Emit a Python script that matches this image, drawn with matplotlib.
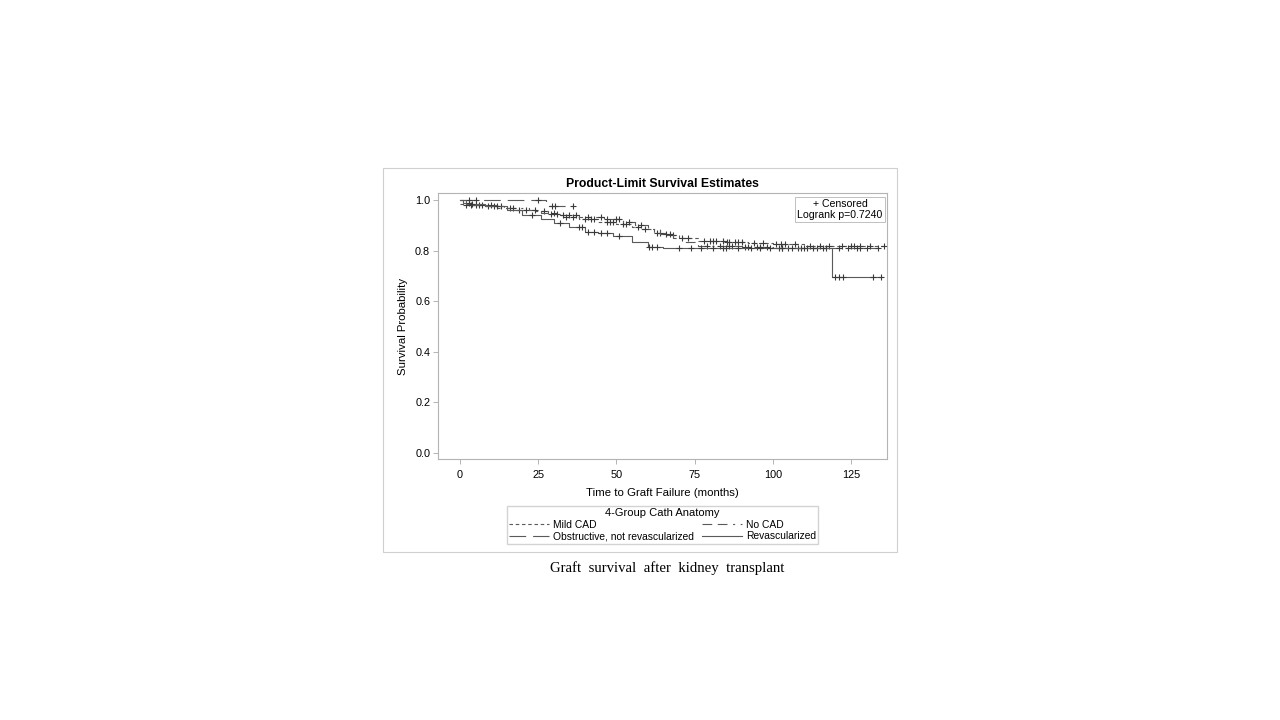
"""
Kaplan-Meier style graft survival by 4-group cath anatomy (slide reproduction).
"""

import numpy as np
import matplotlib
matplotlib.use("Agg")
import matplotlib.pyplot as plt
from matplotlib.patches import Rectangle
from matplotlib.lines import Line2D

plt.rcParams["font.family"] = ["Liberation Sans", "DejaVu Sans"]
plt.rcParams["lines.scale_dashes"] = False

W, H = 1280, 720

# step knots (time in months, survival) and censor times per group
mild_t = [0, 1, 8, 14, 18, 24, 28, 33, 38, 44, 50, 55, 58, 62, 66, 70, 76, 85, 92, 100, 110]
mild_s = [0.985, 0.98, 0.975, 0.97, 0.96, 0.955, 0.945, 0.935, 0.925, 0.915, 0.905,
          0.895, 0.885, 0.87, 0.86, 0.85, 0.84, 0.835, 0.83, 0.825, 0.82]
mild_cens = [2, 3.5, 5, 6, 9, 11, 13, 16, 19, 21, 27, 29, 31, 34, 36, 40, 42, 43, 47, 48,
             49, 52, 53, 57, 59, 63, 64, 68, 73, 78, 80, 81, 82, 84, 85.5, 86, 88, 89,
             90, 94, 97, 101, 102.5, 104, 107, 112, 115, 118, 122, 125, 126, 128, 131,
             135.5]

nocad_t = [0, 1, 4, 12, 22, 26, 32, 38, 46, 52, 56, 60, 64, 68, 72, 76, 90, 100]
nocad_s = [1.0, 0.99, 0.98, 0.97, 0.96, 0.95, 0.94, 0.935, 0.925, 0.915, 0.9, 0.885,
           0.865, 0.85, 0.835, 0.82, 0.815, 0.81]
nocad_cens = [3, 7, 10, 17, 24, 30, 33, 35, 37, 41, 45, 47, 50, 51, 54, 58, 66, 67, 71,
              79, 83, 86, 87, 91, 92, 95, 96, 98, 102, 103, 105, 108, 109, 111, 114, 117,
              121, 124, 127, 128, 130, 133.5]

obst_t = [0, 27.5]
obst_s = [1.0, 0.977]
obst_cens = [3, 5, 25, 29.5, 30.5, 36]

revasc_t = [0, 2, 8, 15, 20, 26, 30, 35, 40, 44, 49, 55, 60, 65, 119]
revasc_s = [1.0, 0.985, 0.975, 0.96, 0.94, 0.925, 0.91, 0.895, 0.875, 0.87, 0.858,
            0.835, 0.815, 0.81, 0.695]
revasc_cens = [4, 12, 23, 32, 38, 39, 41, 43, 45, 47, 51, 60.5, 61.5, 63, 70, 74, 77,
               81, 84, 85, 89, 93, 96, 99, 103, 106, 110, 113, 116, 120, 121, 122.5, 132,
               134.5]

LINE_C = "#5a5a5a"
CENS_C = "#3a3a3a"
GRID_C = "#b4b4b4"

groups = [
    ("Mild CAD", mild_t, mild_s, mild_cens, (0, (2.5, 2.0))),
    ("Obstructive, not revascularized", obst_t, obst_s, obst_cens, (0, (12, 5))),
    ("No CAD", nocad_t, nocad_s, nocad_cens, (0, (7, 4, 7, 4, 1.5, 4))),
    ("Revascularized", revasc_t, revasc_s, revasc_cens, "solid"),
]

fig = plt.figure(figsize=(W / 100, H / 100), dpi=100)

# outer frame of the pasted chart
fig.patches.append(Rectangle((383 / W, 1 - 552 / H), 514 / W, 384 / H,
                             transform=fig.transFigure, fill=False,
                             ec="#cfcfcf", lw=0.8))

ax = fig.add_axes([438 / W, 1 - 459 / H, 449 / W, 266 / H])

handles = []
for name, t, s, cens, ls in groups:
    xs = list(t) + [max(cens)]
    ys = list(s) + [s[-1]]
    ax.step(xs, ys, where="post", color=LINE_C, lw=0.8, linestyle=ls)
    idx = np.searchsorted(t, cens, side="right") - 1
    cy = np.asarray(s)[idx]
    ax.plot(cens, cy, linestyle="none", marker="+", markersize=5,
            markeredgewidth=0.8, color=CENS_C)
    handles.append(Line2D([], [], color=LINE_C, lw=0.8, linestyle=ls, label=name))

ax.set_xlim(-7, 136.5)
ax.set_ylim(-0.024, 1.028)
ax.set_xticks([0, 25, 50, 75, 100, 125])
ax.set_yticks([0.0, 0.2, 0.4, 0.6, 0.8, 1.0])
ax.set_yticklabels(["0.0", "0.2", "0.4", "0.6", "0.8", "1.0"])
ax.tick_params(direction="out", length=3.6, width=0.7, color=GRID_C,
               labelsize=7.8, pad=2)
ax.tick_params(axis="x", pad=4)
for sp in ax.spines.values():
    sp.set_color(GRID_C)
    sp.set_linewidth(0.8)

ax.set_xlabel("Time to Graft Failure (months)", fontsize=8.2, labelpad=6)
ax.set_ylabel("Survival Probability", fontsize=8.2, labelpad=5)
ax.set_title("Product-Limit Survival Estimates", fontsize=8.8, fontweight="bold", pad=4)

ax.text((840 - 438) / 449, 1 - (199 - 193) / 266, "+ Censored\nLogrank p=0.7240",
        transform=ax.transAxes, ha="center", va="top", multialignment="center",
        fontsize=7.6, linespacing=1.15,
        bbox=dict(boxstyle="square,pad=0.2", fc="white", ec="#c0c0c0", lw=0.7))

fig.legend(handles=handles, ncol=2, title="4-Group Cath Anatomy",
           loc="upper center", bbox_to_anchor=(662.5 / W, 1 - 506 / H),
           fontsize=7.4, title_fontsize=8, frameon=True, fancybox=False,
           edgecolor="#c8c8c8", handlelength=3.9, handletextpad=0.4,
           columnspacing=0.7, labelspacing=0.15, borderpad=0.22,
           borderaxespad=0)

fig.text(667 / W, 1 - 568 / H, "Graft  survival  after  kidney  transplant",
         ha="center", va="center", fontsize=10.6,
         family=["Liberation Serif", "DejaVu Serif"])

fig.savefig("out.png", dpi=100)
plt.close(fig)
